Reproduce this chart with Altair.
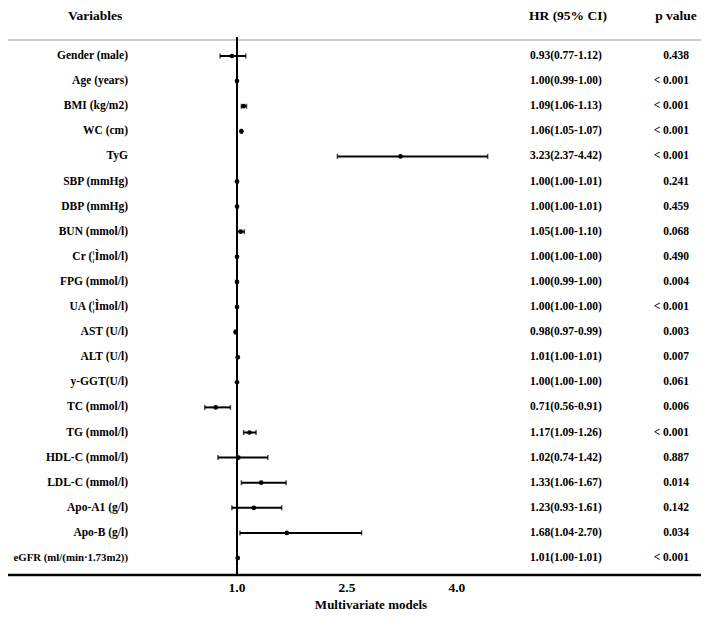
import altair as alt
import pandas as pd

variables = ["Gender (male)", "Age (years)", "BMI (kg/m2)", "WC (cm)", "TyG", "SBP (mmHg)",
             "DBP (mmHg)", "BUN (mmol/l)", "Cr (¦Ìmol/l)", "FPG (mmol/l)", "UA (¦Ìmol/l)",
             "AST (U/l)", "ALT (U/l)", "y-GGT(U/l)", "TC (mmol/l)", "TG (mmol/l)",
             "HDL-C (mmol/l)", "LDL-C (mmol/l)", "Apo-A1 (g/l)", "Apo-B (g/l)",
             "eGFR (ml/(min·1.73m2))"]
hr = [0.93, 1.00, 1.09, 1.06, 3.23, 1.00, 1.00, 1.05, 1.00, 1.00, 1.00, 0.98, 1.01, 1.00,
      0.71, 1.17, 1.02, 1.33, 1.23, 1.68, 1.01]
lo = [0.77, 0.99, 1.06, 1.05, 2.37, 1.00, 1.00, 1.00, 1.00, 0.99, 1.00, 0.97, 1.00, 1.00,
      0.56, 1.09, 0.74, 1.06, 0.93, 1.04, 1.00]
hi = [1.12, 1.00, 1.13, 1.07, 4.42, 1.01, 1.01, 1.10, 1.00, 1.00, 1.00, 0.99, 1.01, 1.00,
      0.91, 1.26, 1.42, 1.67, 1.61, 2.70, 1.01]
pvals = ["0.438", "< 0.001", "< 0.001", "< 0.001", "< 0.001", "0.241", "0.459", "0.068",
         "0.490", "0.004", "< 0.001", "0.003", "0.007", "0.061", "0.006", "< 0.001",
         "0.887", "0.014", "0.142", "0.034", "< 0.001"]
tick_values = [1.0, 2.5, 4.0]
tick_labels = ["1.0", "2.5", "4.0"]
headers_txt = ["Variables", "HR (95% CI)", "p value"]
x_title = "Multivariate models"

W, H = 693, 604
FONT = "Liberation Serif"

df = pd.DataFrame({
    "name": variables, "hr": hr, "lo": lo, "hi": hi, "p": pvals,
    "hrtxt": [f"{a:.2f}({b:.2f}-{c:.2f})" for a, b, c in zip(hr, lo, hi)],
    "long": [len(v) > 18 for v in variables],
})

xscale = alt.Scale(domain=[-2.124, 7.330], nice=False, zero=False)
yenc = alt.Y("name:N", sort=variables,
             scale=alt.Scale(type="point", range=[48, 550], padding=0), axis=None)

base = alt.Chart(df)

bars = base.mark_rule(color="black", strokeWidth=2).encode(
    x=alt.X("lo:Q", scale=xscale, axis=None), x2="hi:Q", y=yenc)
caps_lo = base.mark_tick(color="black", thickness=1.5, size=5, orient="vertical").encode(
    x=alt.X("lo:Q", scale=xscale, axis=None), y=yenc)
caps_hi = base.mark_tick(color="black", thickness=1.5, size=5, orient="vertical").encode(
    x=alt.X("hi:Q", scale=xscale, axis=None), y=yenc)
pts = base.mark_circle(color="black", opacity=1, size=22).encode(
    x=alt.X("hr:Q", scale=xscale, axis=None), y=yenc)

txt = dict(baseline="middle", font=FONT, fontWeight="bold", color="black")
names = base.mark_text(align="right", **txt).encode(
    x=alt.value(120), y=yenc, text="name:N",
    size=alt.condition("datum.long", alt.value(10.8), alt.value(11.5)))
hrtext = base.mark_text(align="left", fontSize=11.5, **txt).encode(
    x=alt.value(522), y=yenc, text="hrtxt:N")
ptext = base.mark_text(align="right", fontSize=11.5, **txt).encode(
    x=alt.value(681), y=yenc, text="p:N")

htxt = dict(baseline="middle", font=FONT, fontWeight="bold", fontSize=13.5, color="black")
h1 = alt.Chart(pd.DataFrame({"t": [headers_txt[0]]})).mark_text(align="center", **htxt).encode(
    x=alt.value(87), y=alt.value(8), text="t:N")
h2 = alt.Chart(pd.DataFrame({"t": [headers_txt[1]]})).mark_text(align="center", **htxt).encode(
    x=alt.value(560), y=alt.value(8), text="t:N")
h3 = alt.Chart(pd.DataFrame({"t": [headers_txt[2]]})).mark_text(align="center", **htxt).encode(
    x=alt.value(668), y=alt.value(8), text="t:N")

top_line = alt.Chart(pd.DataFrame({"a": [0]})).mark_rule(color="#999999", strokeWidth=1).encode(
    x=alt.value(0), x2=alt.value(W), y=alt.value(32))
axis_line = alt.Chart(pd.DataFrame({"a": [0]})).mark_rule(color="black", strokeWidth=2.5).encode(
    x=alt.value(0), x2=alt.value(W), y=alt.value(567))
ref = alt.Chart(pd.DataFrame({"v": [1.0]})).mark_rule(color="black", strokeWidth=2).encode(
    x=alt.X("v:Q", scale=xscale, axis=None), y=alt.value(29), y2=alt.value(567))

ticks = alt.Chart(pd.DataFrame({"v": tick_values, "lab": tick_labels})).mark_text(
    align="center", **htxt).encode(
    x=alt.X("v:Q", scale=xscale, axis=None), y=alt.value(580), text="lab:N")

title = alt.Chart(pd.DataFrame({"t": [x_title]})).mark_text(
    align="center", baseline="middle", font=FONT, fontWeight="bold", fontSize=13,
    color="black").encode(x=alt.value(363), y=alt.value(597), text="t:N")

chart = alt.layer(top_line, ref, bars, caps_lo, caps_hi, pts, axis_line, names, hrtext,
                  ptext, h1, h2, h3, ticks, title).properties(
    width=W, height=H, autosize=alt.AutoSizeParams(type="none"), padding=0
).configure_view(stroke=None)

chart.save("out.html", embed_options={"renderer": "svg", "actions": False})
